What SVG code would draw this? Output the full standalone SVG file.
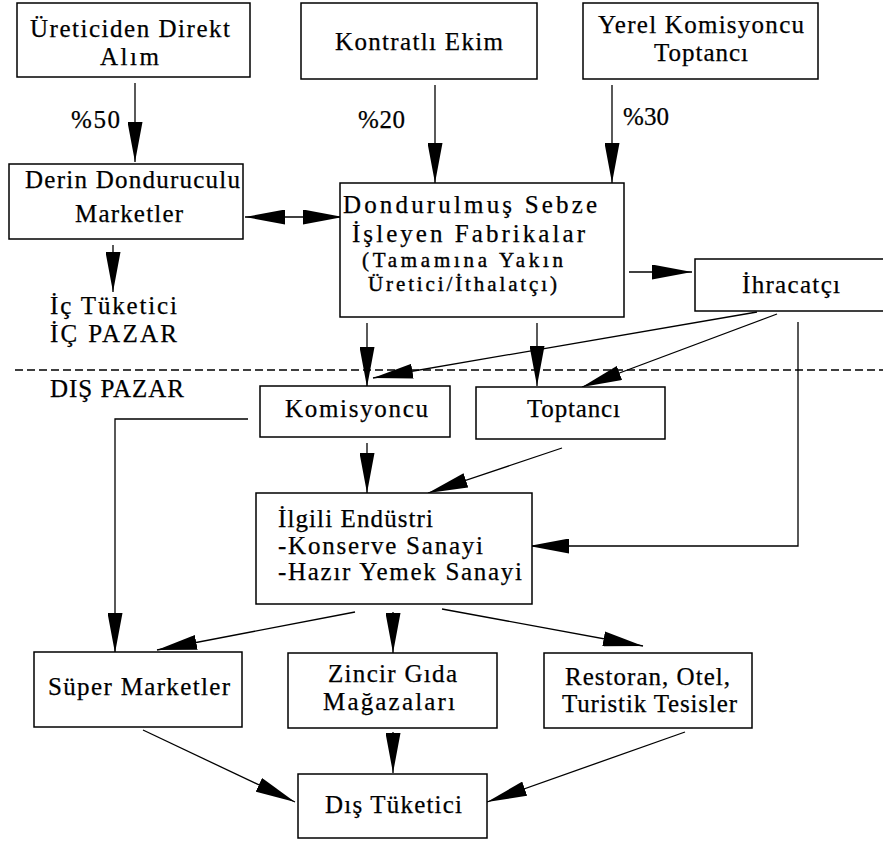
<svg xmlns="http://www.w3.org/2000/svg" width="883" height="841" viewBox="0 0 883 841">
<style>
rect.box{fill:#fff;stroke:#000;stroke-width:1.5}
text{font-family:"Liberation Serif","Times New Roman",serif;font-size:25px;fill:#000;stroke:#000;stroke-width:0.25}
text.sm{font-size:21px;stroke-width:0.4}
.c{fill:none;stroke:#000;stroke-width:1.3}
.d{fill:none;stroke:#000;stroke-width:1.3;stroke-dasharray:8 4}
</style>
<defs>
<marker id="ah" viewBox="0 0 40 15" markerWidth="40" markerHeight="15" refX="40" refY="7.5" orient="auto-start-reverse" markerUnits="userSpaceOnUse">
<path d="M0,0 L40,7.5 L0,15 Z" fill="#000"/>
</marker>
</defs>
<rect width="883" height="841" fill="#fff"/>
<g id="connectors">
<path class="c" d="M135,83 V162" marker-end="url(#ah)"/>
<path class="c" d="M435,85 V183" marker-end="url(#ah)"/>
<path class="c" d="M612,85 V183" marker-end="url(#ah)"/>
<path class="c" d="M245,217 H343" marker-start="url(#ah)" marker-end="url(#ah)"/>
<path class="c" d="M113,245 V292" marker-end="url(#ah)"/>
<path class="c" d="M367,323 V387" marker-end="url(#ah)"/>
<path class="c" d="M537,323 V386" marker-end="url(#ah)"/>
<path class="c" d="M629,272 H692" marker-end="url(#ah)"/>
<path class="c" d="M757,312 L373,378" marker-end="url(#ah)"/>
<path class="c" d="M777,314 L582,387" marker-end="url(#ah)"/>
<path class="c" d="M798,322 V546 H529" marker-end="url(#ah)"/>
<path class="c" d="M248,419 H115 V653" marker-end="url(#ah)"/>
<path class="c" d="M367,443 V493" marker-end="url(#ah)"/>
<path class="c" d="M562,448 L428,493" marker-end="url(#ah)"/>
<path class="c" d="M355,612 L157,650" marker-end="url(#ah)"/>
<path class="c" d="M393,612 V653" marker-end="url(#ah)"/>
<path class="c" d="M442,609 L643,646" marker-end="url(#ah)"/>
<path class="c" d="M143,730 L295,802" marker-end="url(#ah)"/>
<path class="c" d="M393,732 V773" marker-end="url(#ah)"/>
<path class="c" d="M685,732 L487,802" marker-end="url(#ah)"/>
<path class="d" d="M15,370 H883"/>
</g>
<g id="labels">
<text x="71" y="128" textLength="49" lengthAdjust="spacing">%50</text>
<text x="358" y="128" textLength="47" lengthAdjust="spacing">%20</text>
<text x="623" y="125" textLength="46" lengthAdjust="spacing">%30</text>
</g>
<g id="n-uretici"><rect class="box" x="17" y="3" width="233" height="74"/>
<text x="30" y="37" textLength="200" lengthAdjust="spacing">Üreticiden Direkt</text>
<text x="100" y="65" textLength="59" lengthAdjust="spacing">Alım</text></g>
<g id="n-kontrat"><rect class="box" x="301" y="3" width="236" height="76"/>
<text x="335" y="50" textLength="168" lengthAdjust="spacing">Kontratlı Ekim</text></g>
<g id="n-yerel"><rect class="box" x="583" y="3" width="235" height="76"/>
<text x="598" y="33" textLength="206" lengthAdjust="spacing">Yerel Komisyoncu</text>
<text x="654" y="61" textLength="94" lengthAdjust="spacing">Toptancı</text></g>
<g id="n-derin"><rect class="box" x="9" y="164" width="234" height="75"/>
<text x="25" y="188" textLength="215" lengthAdjust="spacing">Derin Donduruculu</text>
<text x="75" y="222" textLength="108" lengthAdjust="spacing">Marketler</text></g>
<g id="n-fabrika"><rect class="box" x="340" y="183" width="284" height="134"/>
<text x="343" y="213" textLength="254" lengthAdjust="spacing">Dondurulmuş Sebze</text>
<text x="352" y="242" textLength="233" lengthAdjust="spacing">İşleyen Fabrikalar</text>
<text class="sm" x="362" y="267" textLength="201" lengthAdjust="spacing">(Tamamına Yakın</text>
<text class="sm" x="368" y="291" textLength="189" lengthAdjust="spacing">Üretici/İthalatçı)</text></g>
<g id="n-ihracatci"><rect class="box" x="695" y="259" width="200" height="52"/>
<text x="742" y="293" textLength="98" lengthAdjust="spacing">İhracatçı</text></g>
<g id="n-ic">
<text x="50" y="314" textLength="127" lengthAdjust="spacing">İç Tüketici</text>
<text x="50" y="342" textLength="127" lengthAdjust="spacing">İÇ PAZAR</text>
<text x="50" y="397" textLength="134" lengthAdjust="spacing">DIŞ PAZAR</text></g>
<g id="n-komisyoncu"><rect class="box" x="260" y="386" width="190" height="51"/>
<text x="285" y="417" textLength="143" lengthAdjust="spacing">Komisyoncu</text></g>
<g id="n-toptanci"><rect class="box" x="476" y="387" width="189" height="52"/>
<text x="527" y="417" textLength="93" lengthAdjust="spacing">Toptancı</text></g>
<g id="n-endustri"><rect class="box" x="256" y="493" width="276" height="111"/>
<text x="278" y="527" textLength="155" lengthAdjust="spacing">İlgili Endüstri</text>
<text x="278" y="554" textLength="205" lengthAdjust="spacing">-Konserve Sanayi</text>
<text x="278" y="580" textLength="244" lengthAdjust="spacing">-Hazır Yemek Sanayi</text></g>
<g id="n-super"><rect class="box" x="34" y="652" width="208" height="75"/>
<text x="48" y="695" textLength="182" lengthAdjust="spacing">Süper Marketler</text></g>
<g id="n-zincir"><rect class="box" x="288" y="653" width="209" height="75"/>
<text x="328" y="682" textLength="129" lengthAdjust="spacing">Zincir Gıda</text>
<text x="323" y="710" textLength="132" lengthAdjust="spacing">Mağazaları</text></g>
<g id="n-restoran"><rect class="box" x="544" y="653" width="208" height="75"/>
<text x="565" y="685" textLength="165" lengthAdjust="spacing">Restoran, Otel,</text>
<text x="562" y="712" textLength="175" lengthAdjust="spacing">Turistik Tesisler</text></g>
<g id="n-dis"><rect class="box" x="298" y="774" width="189" height="64"/>
<text x="325" y="813" textLength="137" lengthAdjust="spacing">Dış Tüketici</text></g>
</svg>
